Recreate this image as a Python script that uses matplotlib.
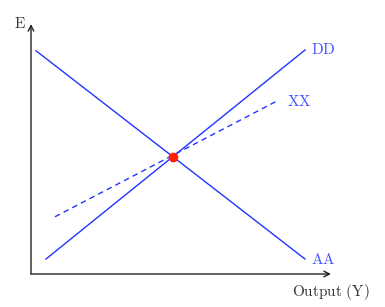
import matplotlib
matplotlib.use("Agg")
import matplotlib.pyplot as plt

plt.rcParams['mathtext.fontset'] = 'cm'
plt.rcParams['font.family'] = 'serif'
plt.rcParams['font.serif'] = ['DejaVu Serif']

# Curve end points (data units)
aa_x = [0.2, 10.96]
aa_y = [8.93, 0.6]
dd_x = [0.6, 10.96]
dd_y = [0.6, 8.96]
xx_x = [0.96, 9.84]
xx_y = [2.29, 6.92]
eq_x = [5.68]
eq_y = [4.7]
curve_labels = ['AA', 'DD', 'XX']
x_label = 'Output (Y)'
y_label = 'E'

blue = '#2233ff'
label_blue = '#4455ff'

fig = plt.figure(figsize=(3.85, 3.07), dpi=100)
ax = fig.add_axes([0, 0, 1, 1])
ax.set_xlim(-1.24, 14.16)
ax.set_ylim(-1.32, 10.96)
ax.axis('off')

# axes with arrows
ax.annotate('', xy=(12.0, 0), xytext=(0, 0),
            arrowprops=dict(arrowstyle='->', color='#222222', lw=1.0,
                            shrinkA=0, shrinkB=0))
ax.annotate('', xy=(0, 10.0), xytext=(0, 0),
            arrowprops=dict(arrowstyle='->', color='#222222', lw=1.0,
                            shrinkA=0, shrinkB=0))

ax.plot(aa_x, aa_y, color=blue, lw=1.0)
ax.plot(dd_x, dd_y, color=blue, lw=1.0)
ax.plot(xx_x, xx_y, color=blue, lw=1.0, ls=(0, (4, 3)))
ax.plot(eq_x, eq_y, 'o', color='#ff2200', markersize=6, zorder=5)

fs = 11
ax.text(aa_x[1] + 0.24, aa_y[1], r'$\mathrm{' + curve_labels[0] + '}$',
        color=label_blue, fontsize=fs, ha='left', va='center')
ax.text(dd_x[1] + 0.24, dd_y[1], r'$\mathrm{' + curve_labels[1] + '}$',
        color=label_blue, fontsize=fs, ha='left', va='center')
ax.text(xx_x[1] + 0.4, xx_y[1], r'$\mathrm{' + curve_labels[2] + '}$',
        color=label_blue, fontsize=fs, ha='left', va='center')

ax.text(12.0, -0.3, r'$\mathrm{Output\ (Y)}$', color='#333333',
        fontsize=fs, ha='center', va='top')
ax.text(-0.2, 10.0, r'$\mathrm{' + y_label + '}$', color='#333333',
        fontsize=fs, ha='right', va='center')

fig.savefig('out.png', dpi=100)
